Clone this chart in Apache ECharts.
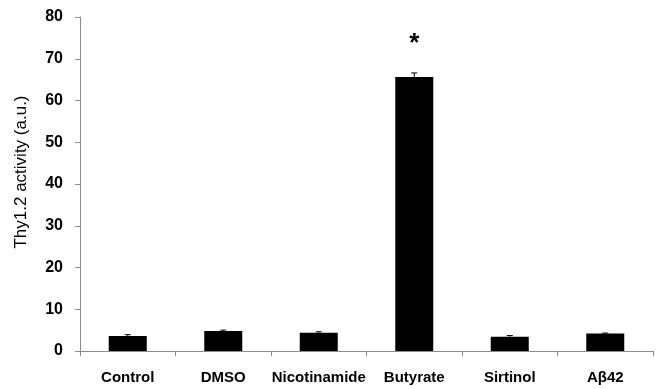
<!DOCTYPE html>
<html><head><meta charset="utf-8">
<script src="https://cdn.jsdelivr.net/npm/echarts@6/dist/echarts.min.js"></script>
<style>html,body{margin:0;padding:0;background:#fff}#c{width:656px;height:389px}</style>
</head><body><div id="c"></div>
<script>
const categories = ['Control', 'DMSO', 'Nicotinamide', 'Butyrate', 'Sirtinol', 'A\u03b242'];
const values = [3.6, 4.8, 4.4, 65.6, 3.4, 4.2];
const errors = [0.3, 0.2, 0.2, 1.0, 0.3, 0.1];
const significance = ['', '', '', '*', '', ''];
const yTicks = { min: 0, max: 80, interval: 10 };

const chart = echarts.init(document.getElementById('c'));
const F = 'Liberation Sans, Arial, sans-serif';
chart.setOption({
  animation: false,
  grid: { left: 80, right: 3, top: 17, bottom: 38 },
  xAxis: {
    type: 'category', data: categories,
    axisLine: { lineStyle: { color: '#8c8c8c', width: 1 } },
    axisTick: { show: true, alignWithLabel: false, length: 5, lineStyle: { color: '#8c8c8c' } },
    axisLabel: { color: '#000', fontFamily: F, fontWeight: 'bold', fontSize: 15, margin: 19, interval: 0 }
  },
  yAxis: {
    type: 'value', min: yTicks.min, max: yTicks.max, interval: yTicks.interval,
    name: 'Thy1.2 activity (a.u.)', nameLocation: 'middle', nameGap: 50,
    nameTextStyle: { color: '#000', fontFamily: F, fontSize: 17, padding: [0, 0, 0, 24] },
    axisLine: { show: true, lineStyle: { color: '#8c8c8c', width: 1 } },
    axisTick: { show: true, length: 5, lineStyle: { color: '#8c8c8c' } },
    splitLine: { show: false },
    axisLabel: { color: '#000', fontFamily: F, fontWeight: 'bold', fontSize: 16, margin: 17 }
  },
  series: [
    {
      type: 'bar', data: values, barWidth: 38,
      itemStyle: { color: '#000' },
      label: {
        show: true, position: 'top', distance: 20,
        formatter: p => significance[p.dataIndex],
        color: '#000', fontFamily: F, fontWeight: 'bold', fontSize: 26
      },
      z: 2
    },
    {
      type: 'custom',
      data: values.map((v, i) => [i, v, v + errors[i]]),
      renderItem: function (params, api) {
        const top = api.coord([api.value(0), api.value(2)]);
        const base = api.coord([api.value(0), api.value(1)]);
        const hw = 3;
        return {
          type: 'group',
          children: [
            { type: 'line', shape: { x1: top[0], y1: top[1], x2: base[0], y2: base[1] }, style: { stroke: '#000', lineWidth: 1 } },
            { type: 'line', shape: { x1: top[0] - hw, y1: top[1], x2: top[0] + hw, y2: top[1] }, style: { stroke: '#000', lineWidth: 1 } }
          ]
        };
      },
      z: 3
    }
  ]
});
</script></body></html>
